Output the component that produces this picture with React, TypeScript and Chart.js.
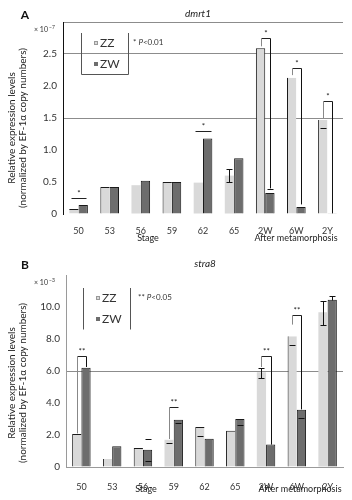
import React, { useEffect, useRef } from 'react';
import { Chart, registerables } from 'chart.js';

Chart.register(...registerables);

const categories = ['50', '53', '56', '59', '62', '65', '2W', '6W', '2Y'];

const dmrt1ZZ = [0.08, 0.42, 0.45, 0.5, 0.49, 0.6, 2.59, 2.13, 1.47];
const dmrt1ZW = [0.14, 0.42, 0.52, 0.5, 1.18, 0.87, 0.33, 0.11, 0.01];
const stra8ZZ = [2.06, 0.5, 1.19, 1.7, 2.5, 2.27, 5.92, 8.17, 9.67];
const stra8ZW = [6.2, 1.3, 1.08, 2.96, 1.77, 3.0, 1.4, 3.58, 10.46];

// error entries: [lower, upper, draw stem]
type Err = [number, number, boolean] | null;
const dmrt1ErrZZ: Err[] = [null, null, null, null, null, [0.1, 0.1, true], null, null, [0.13, 0, false]];
const dmrt1ErrZW: Err[] = [null, null, null, null, null, null, [0, 0.06, false], null, null];
const stra8ErrZZ: Err[] = [null, null, null, [0.2, 0, false], [0.58, 0, false], null, [0.34, 0.29, true], [0.52, 0, false], [0.77, 0.73, true]];
const stra8ErrZW: Err[] = [null, null, [0.68, 0.7, false], [0.21, 0, false], null, [0.35, 0, false], null, [0.52, 0, false], [0, 0.2, true]];

// significance brackets
const dmrt1SigCat = [0, 4, 6, 7, 8];
const dmrt1SigLevel = [0.25, 1.3, 2.75, 2.28, 1.76];
const dmrt1SigLeft: (number | null)[] = [null, null, 2.62, 2.17, 1.5];
const dmrt1SigRight: (number | null)[] = [null, null, 0.4, 0.15, 0.01];
const dmrt1SigMark = ['*', '*', '*', '*', '*'];

const stra8SigCat = [0, 3, 6, 7];
const stra8SigLevel = [6.96, 3.75, 6.96, 9.52];
const stra8SigLeft: (number | null)[] = [2.1, 1.75, 6.25, 8.9];
const stra8SigRight: (number | null)[] = [6.25, null, 1.4, 3.6];
const stra8SigMark = ['**', '**', '**', '**'];

const dmrt1Ticks = { min: 0, max: 3, step: 0.5 };
const stra8Ticks = { min: 0, max: 12, step: 2 };
const dmrt1Grid = [1.5, 2.5, 3];
const stra8Grid = [6];

const FONT = 'Lato, "Open Sans", sans-serif';
const ZZ_COLOR = '#d9d9d9';
const ZW_COLOR = '#6d6d6d';

type PanelCfg = {
  id: string;
  letter: string;
  gene: string;
  geneX: number;
  zz: number[];
  zw: number[];
  errZZ: Err[];
  errZW: Err[];
  sigCat: number[];
  sigLevel: number[];
  sigLeft: (number | null)[];
  sigRight: (number | null)[];
  sigMark: string[];
  ticks: { min: number; max: number; step: number };
  grid: number[];
  area: { left: number; right: number; top: number; bottom: number };
  baseline: boolean;
  yBorderColor: string;
  xPad: number;
  pText: string;
  legend: { left: number; right: number; top: number; bottom: number; boxBottom: boolean; pX: number; pY: number; zzY: number; zwY: number };
  titleCenterY: number;
  bottomTextY: number;
  stageX: number;
  afterX: number;
  zzBorders: any[];
};

const H = 250;

function makeConfig(cfg: PanelCfg): any {
  const plugin = {
    id: 'annot' + cfg.id,
    afterDatasetsDraw(chart: any) {
      const ctx = chart.ctx as CanvasRenderingContext2D;
      const ys = chart.scales.y;
      const metas = [chart.getDatasetMeta(0), chart.getDatasetMeta(1)];
      const vals = [cfg.zz, cfg.zw];
      const errs = [cfg.errZZ, cfg.errZW];
      ctx.save();
      ctx.strokeStyle = '#111';
      ctx.lineWidth = 1;
      for (let s = 0; s < 2; s++) {
        for (let i = 0; i < categories.length; i++) {
          const e = errs[s][i];
          if (!e) continue;
          const x = Math.round(metas[s].data[i].x) + 0.5;
          const v = vals[s][i];
          const lo = v - e[0];
          const hi = v + e[1];
          const cw = 3;
          ctx.beginPath();
          if (e[2]) {
            ctx.moveTo(x, Math.round(ys.getPixelForValue(lo)) + 0.5);
            ctx.lineTo(x, Math.round(ys.getPixelForValue(hi)) + 0.5);
          }
          if (e[0] > 0) {
            const py = Math.round(ys.getPixelForValue(lo)) + 0.5;
            ctx.moveTo(x - cw, py);
            ctx.lineTo(x + cw, py);
          }
          if (e[1] > 0) {
            const py = Math.round(ys.getPixelForValue(hi)) + 0.5;
            ctx.moveTo(x - cw, py);
            ctx.lineTo(x + cw, py);
          }
          ctx.stroke();
        }
      }
      // significance brackets
      ctx.font = '8px ' + FONT;
      ctx.textAlign = 'center';
      ctx.textBaseline = 'bottom';
      for (let k = 0; k < cfg.sigCat.length; k++) {
        const i = cfg.sigCat[k];
        const x0 = Math.round(metas[0].data[i].x) + 0.5;
        const x1 = Math.round(metas[1].data[i].x) + 0.5;
        const yl = Math.round(ys.getPixelForValue(cfg.sigLevel[k])) + 0.5;
        ctx.strokeStyle = '#222';
        ctx.beginPath();
        const l = cfg.sigLeft[k];
        const r = cfg.sigRight[k];
        const ext = l === null && r === null ? 3 : 0;
        ctx.moveTo(x0 - ext, yl);
        ctx.lineTo(x1 + ext, yl);
        ctx.stroke();
        if (l !== null) {
          ctx.strokeStyle = '#888';
          ctx.beginPath();
          ctx.moveTo(x0, yl);
          ctx.lineTo(x0, ys.getPixelForValue(l));
          ctx.stroke();
        }
        if (r !== null) {
          ctx.strokeStyle = '#111';
          ctx.beginPath();
          ctx.moveTo(x1, yl);
          ctx.lineTo(x1, ys.getPixelForValue(r));
          ctx.stroke();
        }
        ctx.fillStyle = '#222';
        ctx.fillText(cfg.sigMark[k], (x0 + x1) / 2, yl - 1);
      }
      ctx.restore();
    },
    afterDraw(chart: any) {
      const ctx = chart.ctx as CanvasRenderingContext2D;
      ctx.save();
      // panel letter
      ctx.fillStyle = '#111';
      ctx.font = 'bold 12px ' + FONT;
      ctx.textAlign = 'center';
      ctx.textBaseline = 'middle';
      ctx.fillText(cfg.letter, 25, 15);
      // gene title
      ctx.font = 'italic 10px ' + FONT;
      ctx.fillStyle = '#222';
      ctx.fillText(cfg.gene, cfg.geneX, 14);
      // exponent
      ctx.font = '7px ' + FONT;
      ctx.textAlign = 'left';
      ctx.fillStyle = '#333';
      ctx.fillText('× 10', 34, cfg.area.top + 8);
      ctx.font = '5px ' + FONT;
      ctx.fillText(cfg.id === 'A' ? '−7' : '−3', 49, cfg.area.top + 5);
      // y axis title
      ctx.save();
      ctx.translate(0, cfg.titleCenterY);
      ctx.rotate(-Math.PI / 2);
      ctx.textAlign = 'center';
      ctx.font = '10px ' + FONT;
      ctx.fillStyle = '#222';
      ctx.fillText('Relative expression levels', 0, 12);
      ctx.fillText('(normalized by EF-1α copy numbers)', 0, 23);
      ctx.restore();
      // bottom labels
      ctx.font = '9px ' + FONT;
      ctx.textAlign = 'center';
      ctx.fillStyle = '#222';
      ctx.fillText('Stage', cfg.stageX, cfg.bottomTextY);
      ctx.fillText('After metamorphosis', cfg.afterX, cfg.bottomTextY);
      // legend box
      const lg = cfg.legend;
      ctx.strokeStyle = '#555';
      ctx.lineWidth = 1;
      ctx.beginPath();
      ctx.moveTo(lg.left + 0.5, lg.top);
      ctx.lineTo(lg.left + 0.5, lg.bottom + 0.5);
      if (lg.boxBottom) ctx.lineTo(lg.right + 0.5, lg.bottom + 0.5);
      else ctx.moveTo(lg.right + 0.5, lg.bottom + 0.5);
      ctx.lineTo(lg.right + 0.5, lg.top);
      ctx.stroke();
      ctx.fillStyle = ZZ_COLOR;
      ctx.fillRect(lg.left + 13, lg.zzY - 2, 4, 4);
      ctx.strokeStyle = '#999';
      ctx.strokeRect(lg.left + 13.5, lg.zzY - 1.5, 3, 3);
      ctx.fillStyle = ZW_COLOR;
      ctx.fillRect(lg.left + 13, lg.zwY - 2, 4, 4);
      ctx.font = '12px ' + FONT;
      ctx.textAlign = 'left';
      ctx.fillStyle = '#333';
      ctx.fillText('ZZ', lg.left + 19, lg.zzY + 0.5);
      ctx.fillText('ZW', lg.left + 19, lg.zwY + 0.5);
      // p text
      ctx.font = '8px ' + FONT;
      const pre = cfg.pText;
      ctx.fillText(pre, lg.pX, lg.pY);
      let px = lg.pX + ctx.measureText(pre).width;
      ctx.font = 'italic 8px ' + FONT;
      ctx.fillText('P', px, lg.pY);
      px += ctx.measureText('P').width;
      ctx.font = '8px ' + FONT;
      ctx.fillText(cfg.id === 'A' ? '<0.01' : '<0.05', px, lg.pY);
      ctx.restore();
    },
  };

  const t = cfg.ticks;
  return {
    type: 'bar',
    data: {
      labels: categories,
      datasets: [
        {
          label: 'ZZ',
          data: cfg.zz,
          backgroundColor: ZZ_COLOR,
          borderColor: '#1a1a1a',
          borderWidth: cfg.zzBorders,
          borderSkipped: false,
          categoryPercentage: 0.6,
          barPercentage: 1.0,
        },
        {
          label: 'ZW',
          data: cfg.zw,
          backgroundColor: ZW_COLOR,
          borderColor: '#1a1a1a',
          borderWidth: { top: 1, right: 1, left: 1, bottom: 0 },
          borderSkipped: false,
          categoryPercentage: 0.6,
          barPercentage: 1.0,
        },
      ],
    },
    options: {
      responsive: false,
      animation: false,
      events: [],
      layout: {
        padding: { left: 0, top: cfg.area.top, right: 352 - cfg.area.right, bottom: 0 },
      },
      plugins: {
        legend: { display: false },
        tooltip: { enabled: false },
        title: { display: false },
      },
      scales: {
        x: {
          grid: { display: false },
          border: { display: cfg.baseline, color: '#9a9a9a' },
          ticks: {
            font: { family: FONT, size: 9 },
            color: '#333',
            padding: cfg.xPad,
            maxRotation: 0,
            autoSkip: false,
          },
          afterFit(scale: any) {
            scale.height = H - cfg.area.bottom;
          },
        },
        y: {
          min: t.min,
          max: t.max,
          grid: {
            drawTicks: false,
            color: (c: any) => (c.tick && cfg.grid.some((g) => Math.abs(g - c.tick.value) < 1e-6) ? '#8c8c8c' : 'rgba(0,0,0,0)'),
            lineWidth: 1,
          },
          border: { display: true, color: cfg.yBorderColor, width: 1 },
          ticks: {
            stepSize: t.step,
            padding: 6,
            font: { family: FONT, size: 10 },
            color: '#333',
            callback: (v: any) => {
              const n = Number(v);
              if (Math.abs(n - t.max) < 1e-6) return '';
              if (n === 0) return '0';
              return n.toFixed(1);
            },
          },
          afterFit(scale: any) {
            scale.width = cfg.area.left;
          },
        },
      },
    },
    plugins: [plugin],
  };
}

const panelA: PanelCfg = {
  id: 'A',
  letter: 'A',
  gene: 'dmrt1',
  geneX: 198,
  zz: dmrt1ZZ,
  zw: dmrt1ZW,
  errZZ: dmrt1ErrZZ,
  errZW: dmrt1ErrZW,
  sigCat: dmrt1SigCat,
  sigLevel: dmrt1SigLevel,
  sigLeft: dmrt1SigLeft,
  sigRight: dmrt1SigRight,
  sigMark: dmrt1SigMark,
  ticks: dmrt1Ticks,
  grid: dmrt1Grid,
  area: { left: 63, right: 343, top: 22, bottom: 214 },
  baseline: false,
  yBorderColor: '#111',
  xPad: 4,
  pText: '* ',
  legend: { left: 81, right: 128, top: 33, bottom: 74, boxBottom: true, pX: 133, pY: 42, zzY: 43, zwY: 64 },
  titleCenterY: 128,
  bottomTextY: 238,
  stageX: 148,
  afterX: 296,
  zzBorders: [
    { top: 1, left: 0, right: 0, bottom: 0 },
    { top: 1, left: 1, right: 0, bottom: 0 },
    0,
    { top: 1, left: 1, right: 0, bottom: 0 },
    0,
    0,
    { top: 1, left: 1, right: 1, bottom: 0 },
    { top: 0, left: 1, right: 0, bottom: 0 },
    { top: 0, left: 1, right: 0, bottom: 0 },
  ],
};

const panelB: PanelCfg = {
  id: 'B',
  letter: 'B',
  gene: 'stra8',
  geneX: 205,
  zz: stra8ZZ,
  zw: stra8ZW,
  errZZ: stra8ErrZZ,
  errZW: stra8ErrZW,
  sigCat: stra8SigCat,
  sigLevel: stra8SigLevel,
  sigLeft: stra8SigLeft,
  sigRight: stra8SigRight,
  sigMark: stra8SigMark,
  ticks: stra8Ticks,
  grid: stra8Grid,
  area: { left: 66, right: 343, top: 25, bottom: 217 },
  baseline: true,
  yBorderColor: '#9a9a9a',
  xPad: 7,
  pText: '** ',
  legend: { left: 83, right: 130, top: 38, bottom: 79, boxBottom: false, pX: 138, pY: 47, zzY: 48, zwY: 69 },
  titleCenterY: 133,
  bottomTextY: 239,
  stageX: 146,
  afterX: 300,
  zzBorders: [
    { top: 1, left: 1, right: 0, bottom: 0 },
    { top: 0, left: 1, right: 0, bottom: 0 },
    { top: 1, left: 1, right: 0, bottom: 0 },
    0,
    { top: 1, left: 1, right: 0, bottom: 0 },
    { top: 1, left: 1, right: 0, bottom: 0 },
    0,
    { top: 0, left: 1, right: 0, bottom: 0 },
    0,
  ],
};

function Panel({ cfg, top }: { cfg: PanelCfg; top: number }) {
  const ref = useRef<HTMLCanvasElement | null>(null);
  useEffect(() => {
    if (!ref.current) return;
    const chart = new Chart(ref.current, makeConfig(cfg));
    return () => chart.destroy();
  }, [cfg]);
  return (
    <canvas
      ref={ref}
      width={352}
      height={H}
      style={{ position: 'absolute', left: 0, top, width: 352, height: H, display: 'block' }}
    />
  );
}

export default function App() {
  return (
    <div style={{ position: 'absolute', left: 0, top: 0, width: 352, height: 500, background: '#fff' }}>
      <Panel cfg={panelA} top={0} />
      <Panel cfg={panelB} top={250} />
    </div>
  );
}
